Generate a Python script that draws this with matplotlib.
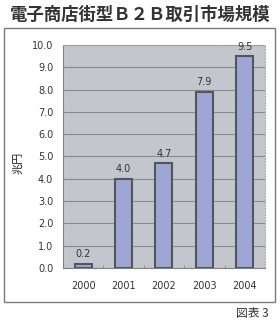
import matplotlib
matplotlib.use('Agg')
import matplotlib.pyplot as plt
from matplotlib.patches import Rectangle

plt.rcParams['font.family'] = ['Noto Sans CJK JP', 'DejaVu Sans']

years = ['2000', '2001', '2002', '2003', '2004']
values = [0.2, 4.0, 4.7, 7.9, 9.5]
yticks = [0.0, 1.0, 2.0, 3.0, 4.0, 5.0, 6.0, 7.0, 8.0, 9.0, 10.0]

fig = plt.figure(figsize=(2.8, 3.25), dpi=100)
fig.patch.set_facecolor('white')

# outer frame
fig.patches.append(Rectangle((0.014, 0.071), 0.968, 0.843, transform=fig.transFigure,
                             fill=False, edgecolor='#7a7a7a', linewidth=1.0))

ax = fig.add_axes([0.225, 0.175, 0.721, 0.687])
ax.set_facecolor('#c3c6cd')
x = list(range(len(years)))
ax.bar(x, values, width=0.42, color='#9da6d5', edgecolor='#55555c', linewidth=1.5, zorder=3)
for xi, v in zip(x, values):
    ax.text(xi, v + 0.2, f'{v:.1f}', ha='center', va='bottom', fontsize=7, color='#333333',
            family='DejaVu Sans')

ax.set_ylim(0, 10)
ax.set_xlim(-0.5, len(years) - 0.5)
ax.set_yticks(yticks)
ax.set_yticklabels([f'{t:.1f}' for t in yticks], fontsize=7, color='#333333', family='DejaVu Sans')
ax.set_xticks(x)
ax.set_xticklabels(years, fontsize=7, color='#333333', family='DejaVu Sans')
ax.set_xticks([i + 0.5 for i in x[:-1]], minor=True)
ax.tick_params(axis='x', which='minor', direction='in', length=2, color='#8a8a8a')
ax.tick_params(axis='y', length=0, pad=7)
ax.tick_params(axis='x', which='major', length=0, pad=9)
ax.grid(axis='y', color='#8a8a8a', linewidth=0.8, zorder=1)
for s in ax.spines.values():
    s.set_color('#a8a8a8')
    s.set_linewidth(0.8)
ax.spines['top'].set_linestyle(':')
ax.spines['right'].set_linestyle(':')
ax.spines['left'].set_color('#808080')
ax.spines['bottom'].set_color('#808080')

fig.text(0.065, 0.5, '兆円', rotation=90, ha='center', va='center', fontsize=8, color='#222222')
fig.text(0.5, 0.955, '電子商店街型Ｂ２Ｂ取引市場規模', ha='center', va='center',
         fontsize=12.5, fontweight='bold', color='#333333')
fig.text(0.96, 0.035, '図表 3', ha='right', va='center', fontsize=8.5, color='#333333')

fig.savefig('out.png', dpi=100)
